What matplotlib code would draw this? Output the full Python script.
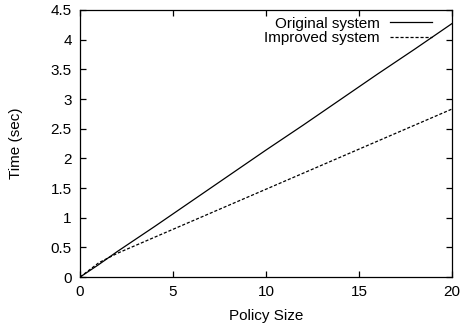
import matplotlib
matplotlib.use('Agg')
from matplotlib import pyplot as plt

# dados
policy_size = [0, 1, 2, 4, 6, 8, 10, 12, 14, 16, 18, 20]
original = [0, 0.21, 0.43, 0.85, 1.28, 1.71, 2.14, 2.56, 2.99, 3.42, 3.84, 4.27]
improved = [0, 0.24, 0.40, 0.67, 0.94, 1.21, 1.48, 1.75, 2.02, 2.29, 2.56, 2.83]

plt.rcParams['font.family'] = ['Liberation Sans', 'DejaVu Sans']
plt.rcParams['font.size'] = 11

fig = plt.figure(figsize=(4.63, 3.33), dpi=100)
ax = fig.add_axes([0.173, 0.168, 0.803, 0.802])

ax.plot(policy_size, original, color='black', lw=0.9, label='Original system')
ax.plot(policy_size, improved, color='black', lw=0.9, linestyle=(0, (2.5, 1.5)),
        label='Improved system')

ax.set_xlim(0, 20)
ax.set_ylim(0, 4.5)
ax.set_xticks([0, 5, 10, 15, 20])
ax.set_yticks([0, 0.5, 1, 1.5, 2, 2.5, 3, 3.5, 4, 4.5])
ax.set_yticklabels(['0', '0.5', '1', '1.5', '2', '2.5', '3', '3.5', '4', '4.5'])
ax.tick_params(direction='in', top=True, right=True, length=4, width=0.9, pad=6)
for s in ax.spines.values():
    s.set_linewidth(0.9)

ax.set_xlabel('Policy Size', labelpad=7)
ax.set_ylabel('Time (sec)', labelpad=20)

ax.legend(loc='upper right', bbox_to_anchor=(0.975, 1.015), frameon=False,
          markerfirst=False, handlelength=2.75, handletextpad=0.65,
          labelspacing=0.05, borderaxespad=0.3)

plt.savefig('out.png', dpi=100)
